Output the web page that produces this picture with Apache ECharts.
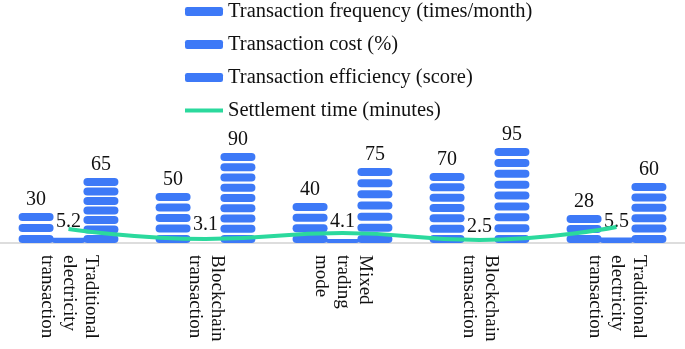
<!DOCTYPE html>
<html>
<head>
<meta charset="utf-8">
<script src="https://cdn.jsdelivr.net/npm/echarts@6/dist/echarts.min.js"></script>
<style>
  html, body { margin: 0; padding: 0; background: #fff; }
  #main { width: 685px; height: 349px; }
</style>
</head>
<body>
<div id="main"></div>
<script>
// data
const categories = [
  "Traditional\nelectricity\ntransaction",
  "Blockchain\ntransaction",
  "Mixed\ntrading\nmode",
  "Blockchain\ntransaction",
  "Traditional\nelectricity\ntransaction"
];
const frequency = [30, 50, 40, 70, 28];
const cost = [5.2, 3.1, 4.1, 2.5, 5.5];
const efficiency = [65, 90, 75, 95, 60];
const settlement = [14, 4, 10, 3, 16];

const seriesNames = [
  "Transaction frequency (times/month)",
  "Transaction cost (%)",
  "Transaction efficiency (score)",
  "Settlement time (minutes)"
];

const blue = "#3d79f7";
const green = "#2bd99d";
const font = "Liberation Serif";
// pill shaped piece, the bars are stacks of these
const pill = "path://M4,0 L31,0 A4,4 0 0 1 31,8 L4,8 A4,4 0 0 1 4,0 Z";

const chart = echarts.init(document.getElementById("main"));

// every bar series looks the same, only the data changes
// the pieces are fitted to the value so the top piece stays whole
function stackBar(name, data, clip) {
  return {
    name: name,
    type: "pictorialBar",
    data: data.map(function (v) {
      return { value: v, symbolBoundingData: v };
    }),
    symbol: pill,
    symbolRepeat: true,
    symbolClip: clip,
    symbolSize: [35, 8],
    symbolMargin: 1.6,
    barGap: "0%",
    barCategoryGap: "29%",
    itemStyle: { color: blue },
    label: {
      show: true,
      position: "top",
      distance: 3,
      color: "#111",
      fontFamily: font,
      fontSize: 20
    },
    z: 2
  };
}

const option = {
  animation: false,
  legend: {
    orient: "vertical",
    left: 180,
    top: -4,
    itemWidth: 38,
    itemHeight: 9,
    itemGap: 12,
    textStyle: { fontFamily: font, fontSize: 20.5, color: "#111" },
    data: [
      { name: seriesNames[0], icon: "roundRect" },
      { name: seriesNames[1], icon: "roundRect" },
      { name: seriesNames[2], icon: "roundRect" },
      { name: seriesNames[3], icon: "path://M0,0 L40,0 L40,4 L0,4 Z" }
    ]
  },
  grid: { left: 0, right: 0, top: 143, bottom: 106 },
  xAxis: {
    type: "category",
    data: categories,
    axisTick: { show: false },
    axisLine: { lineStyle: { color: "#ddd", width: 2 } },
    axisLabel: {
      rotate: -90,
      interval: 0,
      margin: 12,
      color: "#111",
      fontFamily: font,
      fontSize: 19,
      lineHeight: 22
    }
  },
  yAxis: {
    type: "value",
    min: 0,
    max: 100,
    show: false
  },
  series: [
    stackBar(seriesNames[0], frequency, false),
    stackBar(seriesNames[1], cost, true),
    stackBar(seriesNames[2], efficiency, false),
    {
      name: seriesNames[3],
      type: "line",
      data: settlement,
      smooth: true,
      symbol: "none",
      lineStyle: { color: green, width: 4 },
      itemStyle: { color: green },
      z: 3
    }
  ]
};

chart.setOption(option);
</script>
</body>
</html>
